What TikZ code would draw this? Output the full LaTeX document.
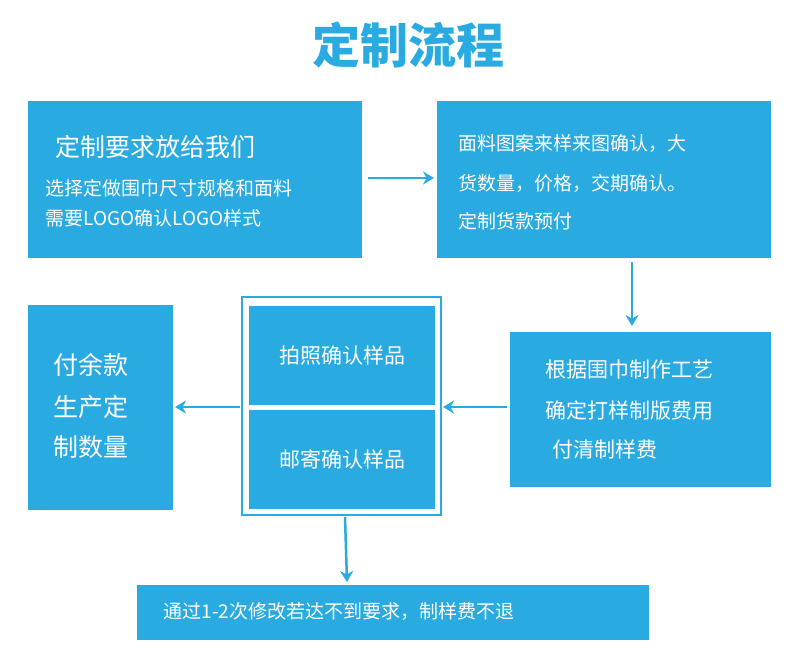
\documentclass[tikz,border=0pt]{standalone}
\usepackage{fontspec}
\setmainfont{Noto Sans CJK SC}
\usetikzlibrary{arrows.meta}
\definecolor{bl}{HTML}{29ABE2}
\begin{document}
\begin{tikzpicture}[x=1pt,y=-1pt,
 box/.style={fill=bl,draw=none,text=white},
 arr/.style={draw=bl,line width=2.5pt,-{Stealth[length=11pt,width=13pt]}},
 tx/.style={text=white,anchor=west,font=\fontsize{19}{19}\selectfont}]
\useasboundingbox (0,0) rectangle (797,660);
\node[text=bl,font=\fontsize{48}{48}\selectfont\bfseries] (title) at (408,45) {定制流程};
\fill[bl] (28,101) rectangle (362,258);
\coordinate (b1r) at (366,178);
\node[tx,font=\fontsize{25}{25}\selectfont] (t1) at (52,147) {定制要求放给我们};
\node[tx] (t2) at (42,188) {选择定做围巾尺寸规格和面料};
\node[tx] (t3) at (42,218) {需要LOGO确认LOGO样式};
\fill[bl] (437,101) rectangle (771,258);
\coordinate (b2l) at (435,178);
\node[tx] (u1) at (455,143) {面料图案来样来图确认，大};
\node[tx] (u2) at (455,183) {货数量，价格，交期确认。};
\node[tx] (u3) at (455,221) {定制货款预付};
\fill[bl] (510,332) rectangle (771,487);
\node[tx,font=\fontsize{21}{21}\selectfont] (v1) at (542,370) {根据围巾制作工艺};
\node[tx,font=\fontsize{21}{21}\selectfont] (v2) at (542,410) {确定打样制版费用};
\node[tx,font=\fontsize{21}{21}\selectfont] (v3) at (549,450) {付清制样费};
\draw[bl,line width=1.2pt] (242,297) rectangle (441,515);
\node[box,minimum width=186pt,minimum height=99pt,anchor=north west,font=\fontsize{21}{21}\selectfont] (m1) at (249,306) {拍照确认样品};
\node[box,minimum width=186pt,minimum height=99pt,anchor=north west,font=\fontsize{21}{21}\selectfont] (m2) at (249,410) {邮寄确认样品};
\fill[bl] (28,305) rectangle (173,510);
\node[tx,font=\fontsize{25}{25}\selectfont] (w1) at (50,365) {付余款};
\node[tx,font=\fontsize{25}{25}\selectfont] (w2) at (50,407) {生产定};
\node[tx,font=\fontsize{25}{25}\selectfont] (w3) at (50,447) {制数量};
\node[box,minimum width=512pt,minimum height=55pt,anchor=north west] (bot) at (137,585) {};
\node[tx] (bt) at (160,612) {通过1-2次修改若达不到要求，制样费不退};
\coordinate (a1) at (368,178); \coordinate (a2) at (434,178);
\draw[arr] (a1) -- (a2);
\coordinate (d1) at (632,262); \coordinate (d2) at (632,326);
\draw[arr] (d1) -- (d2);
\coordinate (c1) at (507,407); \coordinate (c2) at (443,407);
\draw[arr] (c1) -- (c2);
\coordinate (e1) at (240,407); \coordinate (e2) at (175,407);
\draw[arr] (e1) -- (e2);
\coordinate (f1) at (345,517); \coordinate (f2) at (347,582);
\draw[arr] (f1) -- (f2);
\end{tikzpicture}
\end{document}
